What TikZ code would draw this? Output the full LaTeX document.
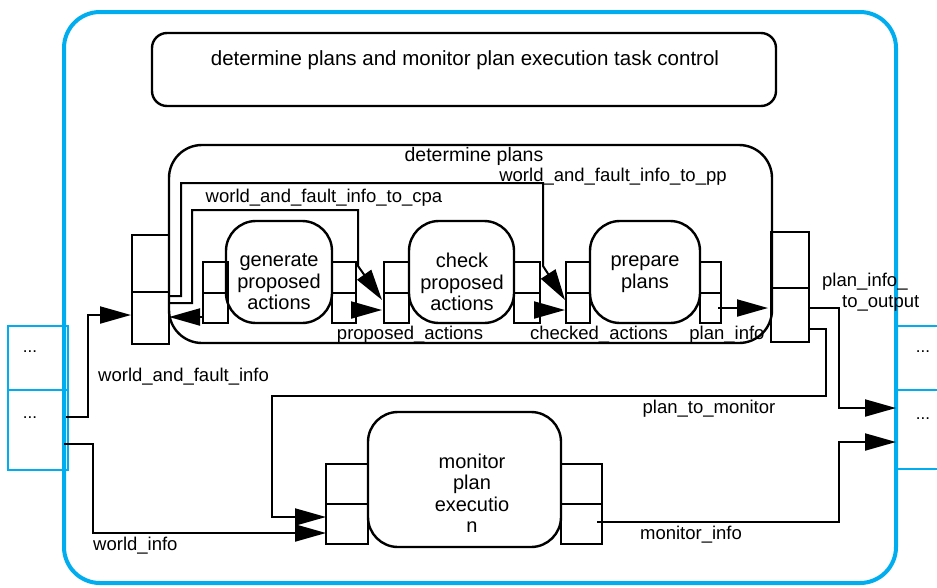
\documentclass[tikz,border=0pt]{standalone}
\usepackage{fontspec}
\setmainfont{Liberation Sans}
\usetikzlibrary{arrows.meta,calc}
\definecolor{frameblue}{RGB}{0,174,239}

\begin{document}
\begin{tikzpicture}[x=1pt,y=-1pt,
  box/.style={draw, line width=2.4pt, rounded corners=#1, inner sep=0pt, outer sep=0pt},
  box/.default=30pt,
  cell/.style={draw, line width=2.4pt, inner sep=0pt, outer sep=0pt},
  xport/.style={draw=frameblue, line width=2.2pt, inner sep=0pt, outer sep=0pt},
  conn/.style={line width=2pt},
  arr/.style={conn, -{Triangle[length=31pt,width=17pt]}},
  lbl/.style={inner sep=0pt, font=\fontsize{18.5}{21}\selectfont},
  proc/.style={inner sep=0pt, align=center, font=\fontsize{20}{21.5}\selectfont},
  dots/.style={inner sep=0pt, font=\fontsize{17}{20}\selectfont}
]
\useasboundingbox (0,0) rectangle (937,587);
\fill[white] (0,0) rectangle (937,587);

% outer task frame
\node[draw=frameblue, line width=4pt, rounded corners=36pt, minimum width=832pt,
      minimum height=571pt, inner sep=0pt, outer sep=0pt] (frame) at (480,297.5) {};

% interface ports of the frame
\node[xport, minimum width=60pt, minimum height=64pt] (inA) at (38,358) {};
\node[xport, minimum width=60pt, minimum height=80pt] (inB) at (38,430) {};
\node[xport, minimum width=60pt, minimum height=64pt] (outA) at (926,358) {};
\node[xport, minimum width=60pt, minimum height=79pt] (outB) at (926,429.5) {};
\node[dots] (inAd) at (30,352) {...};
\node[dots] (inBd) at (30,418) {...};
\node[dots] (outAd) at (923,352) {...};
\node[dots] (outBd) at (923,419) {...};

% task control
\node[box=15pt, minimum width=624pt, minimum height=73pt] (ctrl) at (464,69.5) {};
\node[inner sep=0pt, font=\fontsize{20.5}{23}\selectfont] (ctrlT) at (465,60)
  {determine plans and monitor plan execution task control};

% determine plans composite
\node[box=33pt, minimum width=603pt, minimum height=198pt] (dp) at (470.5,244) {};
\node[inner sep=0pt, font=\fontsize{19.5}{22}\selectfont] (dpT) at (474,156) {determine plans};
\node[cell, minimum width=37pt, minimum height=57pt] (mlt) at (150.5,263.5) {};
\node[cell, minimum width=37pt, minimum height=52pt] (mlb) at (150.5,318) {};
\node[cell, minimum width=38pt, minimum height=56pt] (mrt) at (790,260) {};
\node[cell, minimum width=38pt, minimum height=54pt] (mrb) at (790,315) {};

% inner processes
\node[box, minimum width=106pt, minimum height=102pt] (gen) at (279,272) {};
\node[box, minimum width=105pt, minimum height=102pt] (chk) at (461.5,272) {};
\node[box, minimum width=110pt, minimum height=102pt] (pre) at (645,272) {};
\node[proc] (genT) at (279,282) {generate\\proposed\\actions};
\node[proc] (chkT) at (462,282) {check\\proposed\\actions};
\node[proc] (preT) at (645,274) {prepare\\plans};

\node[cell, minimum width=25pt, minimum height=31pt] (genLt) at (215.5,277.5) {};
\node[cell, minimum width=25pt, minimum height=30pt] (genLb) at (215.5,308) {};
\node[cell, minimum width=24pt, minimum height=31pt] (genRt) at (344,277.5) {};
\node[cell, minimum width=24pt, minimum height=30pt] (genRb) at (344,308) {};
\node[cell, minimum width=25pt, minimum height=31pt] (chkLt) at (396.5,277.5) {};
\node[cell, minimum width=25pt, minimum height=30pt] (chkLb) at (396.5,308) {};
\node[cell, minimum width=26pt, minimum height=31pt] (chkRt) at (527,277.5) {};
\node[cell, minimum width=26pt, minimum height=30pt] (chkRb) at (527,308) {};
\node[cell, minimum width=24pt, minimum height=31pt] (preLt) at (578,277.5) {};
\node[cell, minimum width=24pt, minimum height=30pt] (preLb) at (578,308) {};
\node[cell, minimum width=21pt, minimum height=31pt] (preRt) at (710.5,277.5) {};
\node[cell, minimum width=21pt, minimum height=30pt] (preRb) at (710.5,308) {};

% monitor plan execution
\node[box, minimum width=193pt, minimum height=135pt] (mon) at (464.5,479.5) {};
\node[proc] (monT) at (472,493) {monitor\\plan\\executio\\n};
\node[cell, minimum width=42pt, minimum height=40pt] (monLt) at (347,484) {};
\node[cell, minimum width=42pt, minimum height=40pt] (monLb) at (347,524) {};
\node[cell, minimum width=41pt, minimum height=40pt] (monRt) at (581.5,484) {};
\node[cell, minimum width=41pt, minimum height=40pt] (monRb) at (581.5,524) {};

% information links
\draw[arr] ($(inB.east)+(-2,-13)$) -- ++(22,0) |- ($(mlb.west)+(-1,-3)$);
\draw[arr] ($(inB.east)+(-4,14)$) -- ++(29,0) |- ($(monLb.west)+(0,9)$);
\draw[arr] ($(mrb.east)+(0,14)$) -- ++(17,0) -- ++(0,67)
   -| ($(monLb.west)+(-54,-7)$) -- ($(monLb.west)+(0,-7)$);
\draw[arr] ($(mrb.east)+(0,-7)$) -- ++(30,0) |- ($(outB.west)+(0,-21.5)$);
\draw[arr] ($(monRb.east)+(-5,-2)$) -| ($(outB.west)+(-57,12.5)$) -- ($(outB.west)+(0,12.5)$);

\draw[arr] ($(mlb.east)+(0,-15)$) -- ++(23,0) -- ++(0,-93) -- ++(166,0) -- ++(0,56)
   -- ($(chkLb.west)+(-2,-8)$);
\draw[arr] ($(mlb.east)+(0,-22)$) -- ++(12,0) -- ++(0,-113) -- ++(362,0) -- ++(0,83)
   -- ($(preLb.west)+(-1,-8)$);
\draw[arr] ($(genLb.west)+(0,9)$) -- ($(mlb.east)+(0,-1)$);
\draw[arr] ($(genRb.east)+(-4,2)$) -- ($(chkLb.west)+(-2,2)$);
\draw[arr] ($(chkRb.east)+(-6,2)$) -- ($(preLb.west)+(-1,2)$);
\draw[arr] ($(preRb.east)+(-3,0)$) -- ($(mrb.west)+(-3,-7)$);

% link labels
\node[lbl] (l1) at (324,198) {world\_and\_fault\_info\_to\_cpa};
\node[lbl] (l2) at (613,177) {world\_and\_fault\_info\_to\_pp};
\node[lbl] (l3) at (410,335) {proposed\_actions};
\node[lbl] (l4) at (599,335) {checked\_actions};
\node[lbl] (l5) at (727,335) {plan\_info};
\node[lbl, anchor=west] (l6) at (822,282) {plan\_info\_};
\node[lbl, anchor=west] (l7) at (842,303) {to\_output};
\node[lbl] (l8) at (709,409) {plan\_to\_monitor};
\node[lbl] (l9) at (691,535) {monitor\_info};
\node[lbl, anchor=west] (l10) at (93,546) {world\_info};
\node[lbl, anchor=west] (l11) at (98,377) {world\_and\_fault\_info};
\end{tikzpicture}
\end{document}
